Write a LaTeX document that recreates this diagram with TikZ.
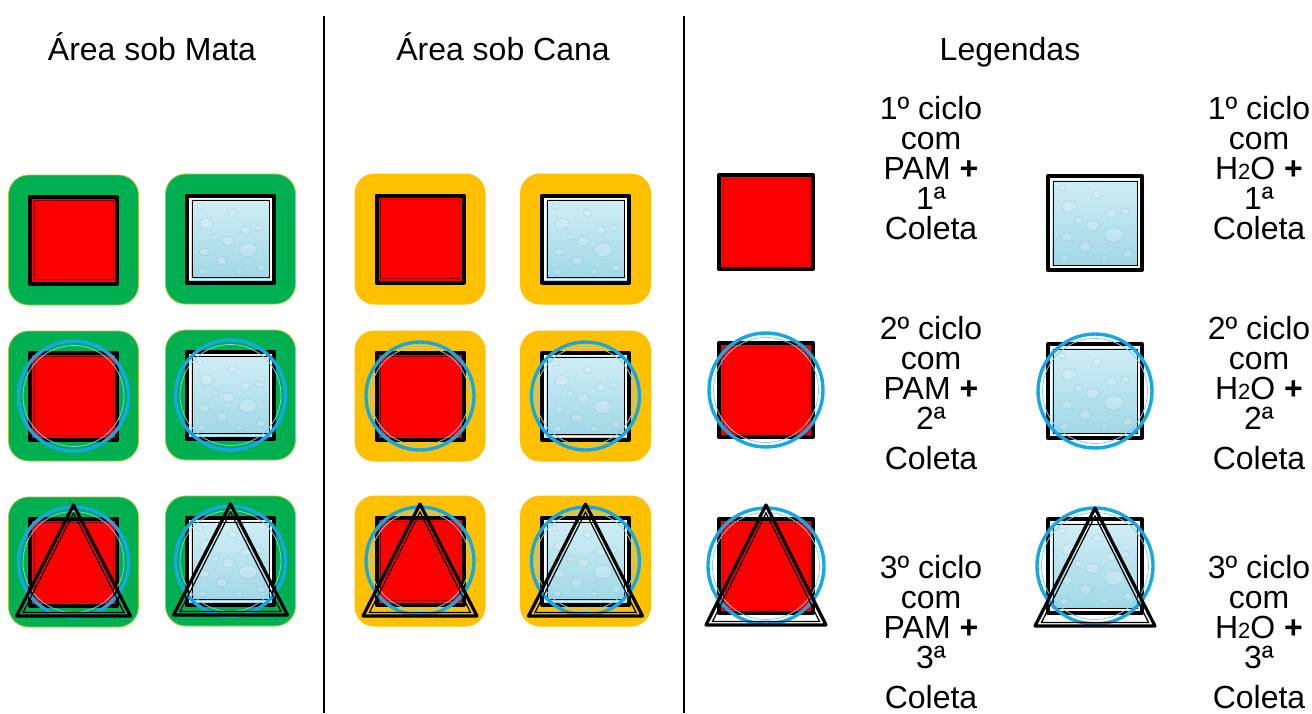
\documentclass[tikz,border=0pt]{standalone}
\usepackage{fontspec}
\setmainfont{Liberation Sans}
\usetikzlibrary{shapes}

\definecolor{mata}{RGB}{0,176,80}
\definecolor{mataedge}{RGB}{170,200,60}
\definecolor{cana}{RGB}{255,192,0}
\definecolor{ringblue}{RGB}{22,168,226}
\definecolor{wattop}{RGB}{210,239,246}
\definecolor{watbot}{RGB}{158,214,229}
\definecolor{dropc}{RGB}{110,180,205}
\definecolor{redline}{RGB}{150,0,0}

% red square with its double frame
\newcommand{\redsq}[1]{%
	\fill[red] (-#1,-#1) rectangle (#1,#1);
	\draw[sqin,redline] ({-#1+4},{-#1+4}) rectangle ({#1-4},{#1-4});
	\draw[sqout] (-#1,-#1) rectangle (#1,#1);}

% water square with drops
\newcommand{\watsq}[1]{%
	\shade[top color=wattop,bottom color=watbot] (-#1,-#1) rectangle (#1,#1);
	\begin{scope}
		\clip (-#1,-#1) rectangle (#1,#1);
		\foreach \dx/\dy/\dr in {-0.55/-0.35/0.12, 0.05/-0.6/0.08, 0.4/0.25/0.16,
			-0.2/0.5/0.1, 0.65/-0.25/0.07, -0.6/0.3/0.09, 0.2/0.75/0.06,
			-0.05/0.05/0.11, 0.7/0.65/0.08, -0.7/-0.75/0.06, 0.35/-0.2/0.09,
			-0.35/-0.05/0.07, -0.65/0.75/0.07}
			\draw[dropstyle] (\dx*#1,\dy*#1) circle[x radius=1.3*\dr*#1, y radius=\dr*#1];
	\end{scope}
	\draw[white,line width=0.8pt] ({-#1+3},{-#1+3}) rectangle ({#1-3},{#1-3});
	\draw[sqin] ({-#1+5},{-#1+5}) rectangle ({#1-5},{#1-5});
	\draw[sqout] (-#1,-#1) rectangle (#1,#1);}

% blue ring
\newcommand{\ringmark}[1]{%
	\draw[ringblue,line width=1.7pt] (0,0) circle[radius=#1];
	\draw[ringblue!55,line width=0.4pt] (0,0) circle[radius={#1-4.5}];}

% triangle: apex height, base half width, base depth
\newcommand{\trimark}[3]{%
	\draw[tri] (0,-#1) -- (#2,#3) -- (-#2,#3) -- cycle;
	\draw[line width=0.6pt] (0,{-#1+8}) -- ({#2-6.5},{#3-3.5}) -- ({-#2+6.5},{#3-3.5}) -- cycle;}

\begin{document}
\begin{tikzpicture}[x=0.5pt,y=-0.5pt]
\tikzstyle{title}=[font=\fontsize{16}{15}\selectfont, anchor=base, inner sep=0]
\tikzstyle{legtxt}=[font=\fontsize{16}{15}\selectfont, align=center, anchor=north, inner sep=0]
\tikzstyle{divider}=[line width=1pt]
\tikzstyle{matabox}=[fill=mata, draw=mataedge, line width=0.4pt, rounded corners=10pt]
\tikzstyle{canabox}=[fill=cana, rounded corners=10pt]
\tikzstyle{sqout}=[draw=black, line width=2pt, line join=round]
\tikzstyle{sqin}=[line width=0.4pt]
\tikzstyle{dropstyle}=[fill=white, fill opacity=0.2, draw=dropc, draw opacity=0.35, line width=0.3pt]
\tikzstyle{tri}=[draw=black, line width=1.6pt, line join=round]

\useasboundingbox (0,0) rectangle (1312,713);

% titles and dividers
\node[title] (tmata) at (152,60) {Área sob Mata};
\node[title] (tcana) at (503,60) {Área sob Cana};
\node[title] (tleg) at (1010,60) {Legendas};
\draw[divider] (324,16) -- (324,713);
\draw[divider] (684,16) -- (684,713);

% Mata
\begin{scope}[shift={(73.5,240)}]
	\draw[matabox] (-65,-65) rectangle (65,65);
	\redsq{43.5}
\end{scope}
\begin{scope}[shift={(230.5,239)}]
	\draw[matabox] (-65,-65) rectangle (65,65);
	\watsq{43.5}
\end{scope}
\begin{scope}[shift={(73.5,396)}]
	\draw[matabox] (-65,-65) rectangle (65,65);
	\redsq{43.5}
	\ringmark{55}
\end{scope}
\begin{scope}[shift={(230.5,395)}]
	\draw[matabox] (-65,-65) rectangle (65,65);
	\watsq{43.5}
	\ringmark{55}
\end{scope}
\begin{scope}[shift={(73.5,562)}]
	\draw[matabox] (-65,-65) rectangle (65,65);
	\redsq{43.5}
	\ringmark{55}
	\trimark{57}{57}{54}
\end{scope}
\begin{scope}[shift={(230.5,561)}]
	\draw[matabox] (-65,-65) rectangle (65,65);
	\watsq{43.5}
	\ringmark{55}
	\trimark{57}{57}{54}
\end{scope}

% Cana
\begin{scope}[shift={(420,239)}]
	\fill[canabox] (-65.5,-65.5) rectangle (65.5,65.5);
	\redsq{43.5}
\end{scope}
\begin{scope}[shift={(585.5,239)}]
	\fill[canabox] (-65.5,-65.5) rectangle (65.5,65.5);
	\watsq{43.5}
\end{scope}
\begin{scope}[shift={(420,396)}]
	\fill[canabox] (-65.5,-65.5) rectangle (65.5,65.5);
	\redsq{43.5}
	\ringmark{54}
\end{scope}
\begin{scope}[shift={(585.5,396)}]
	\fill[canabox] (-65.5,-65.5) rectangle (65.5,65.5);
	\watsq{43.5}
	\ringmark{54}
\end{scope}
\begin{scope}[shift={(420,561)}]
	\fill[canabox] (-65.5,-65.5) rectangle (65.5,65.5);
	\redsq{43.5}
	\ringmark{54}
	\trimark{57}{57}{55}
\end{scope}
\begin{scope}[shift={(585.5,561)}]
	\fill[canabox] (-65.5,-65.5) rectangle (65.5,65.5);
	\watsq{43.5}
	\ringmark{54}
	\trimark{57}{57}{55}
\end{scope}

% Legendas
\begin{scope}[shift={(766,222)}]
	\redsq{47}
\end{scope}
\begin{scope}[shift={(1095,223)}]
	\watsq{47}
\end{scope}
\begin{scope}[shift={(766,390)}]
	\redsq{47}
	\ringmark{57}
\end{scope}
\begin{scope}[shift={(1095,391)}]
	\watsq{47}
	\ringmark{57}
\end{scope}
\begin{scope}[shift={(766,566)}]
	\redsq{47}
	\ringmark{58}
	\trimark{61}{60}{59}
\end{scope}
\begin{scope}[shift={(1095,566)}]
	\watsq{47}
	\ringmark{58}
	\trimark{58}{60}{60}
\end{scope}

\node[legtxt] (pam1) at (931,96) {1º ciclo\\com\\PAM \textbf{+}\\1ª\\Coleta};
\node[legtxt] (agua1) at (1259,96) {1º ciclo\\com\\H{\fontsize{11}{11}\selectfont 2}O \textbf{+}\\1ª\\Coleta};
\node[legtxt] (pam2) at (931,316) {2º ciclo\\com\\PAM \textbf{+}\\2ª\\[5pt]Coleta};
\node[legtxt] (agua2) at (1259,316) {2º ciclo\\com\\H{\fontsize{11}{11}\selectfont 2}O \textbf{+}\\2ª\\[5pt]Coleta};
\node[legtxt] (pam3) at (931,555) {3º ciclo\\com\\PAM \textbf{+}\\3ª\\[5pt]Coleta};
\node[legtxt] (agua3) at (1259,555) {3º ciclo\\com\\H{\fontsize{11}{11}\selectfont 2}O \textbf{+}\\3ª\\[5pt]Coleta};
\end{tikzpicture}
\end{document}
